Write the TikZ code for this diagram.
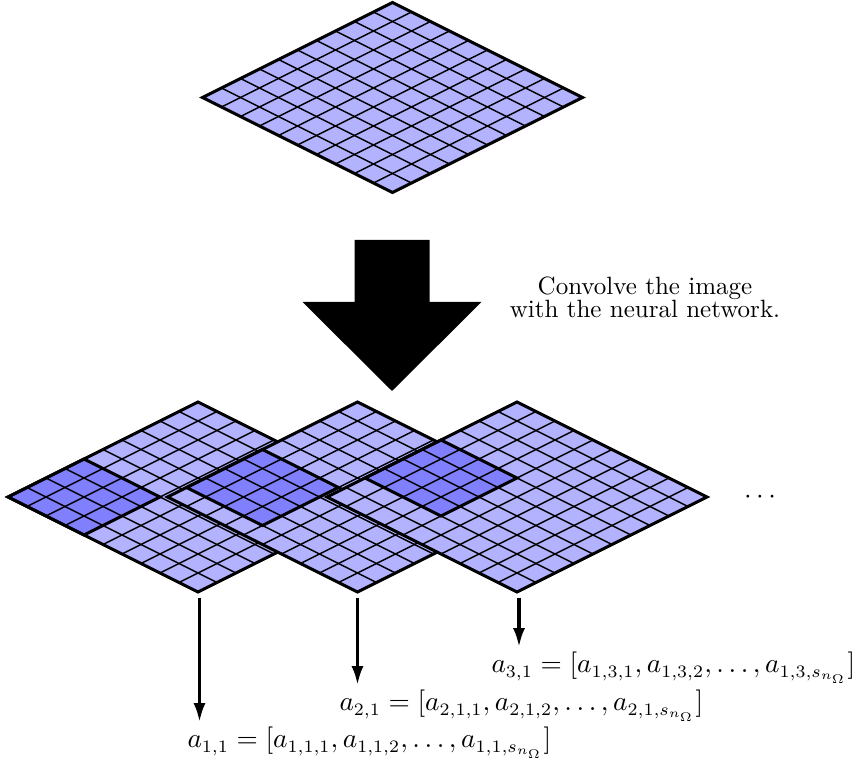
\documentclass[tikz,border=0pt]{standalone}
\usetikzlibrary{arrows.meta}
\tikzset{
  cellfill/.style={fill=blue!30},
  winfill/.style={fill=blue!50},
  gridline/.style={line width=0.6pt},
  border/.style={line width=1.2pt, line join=miter},
  outarrow/.style={line width=1.3pt, -{Latex[length=7.5pt,width=4.8pt]}},
  bigarrow/.style={fill=black},
  caption/.style={inner sep=0pt, anchor=base},
  mathlabel/.style={inner sep=0pt, font=\fontsize{10.7}{13}\selectfont},
}
\newcommand{\isogrid}[3]{%
  \begin{scope}[shift={(#1,#2)}]
    \fill[cellfill] (0,0) -- (190,-95) -- (380,0) -- (190,95) -- cycle;
    \ifnum#3>-1
      \fill[winfill] ({19*#3},{-9.5*#3}) -- ++(76,-38) -- ++(76,38) -- ++(-76,38) -- cycle;
    \fi
    \foreach \i in {1,...,9} {
      \draw[gridline] ({19*\i},{-9.5*\i}) -- ++(190,95);
      \draw[gridline] ({19*\i},{9.5*\i}) -- ++(190,-95);
    }
    \ifnum#3>-1
      \draw[border] ({19*#3},{-9.5*#3}) -- ++(76,-38) -- ++(76,38) -- ++(-76,38) -- cycle;
    \fi
    \draw[border] (0,0) -- (190,-95) -- (380,0) -- (190,95) -- cycle;
  \end{scope}}
\begin{document}
\begin{tikzpicture}[x=0.4pt, y=-0.4pt]
  \useasboundingbox (0,0) rectangle (862,764);
  % input image
  \isogrid{202.5}{97.5}{-1}
  % big arrow
  \fill[bigarrow] (354.5,240) -- (429.5,240) -- (429.5,302) -- (481.5,302)
    -- (392,391) -- (302.5,302) -- (354.5,302) -- cycle;
  \node[caption, text depth=0pt] (cap1) at (645,295) {Convolve the image};
  \node[caption] (cap2) at (645,317.5) {with the neural network.};
  % convolved copies
  \isogrid{8}{497}{0}
  \isogrid{167.5}{497}{1}
  \isogrid{327}{497}{2}
  \node[mathlabel] (dots) at (760,497) {$\cdots$};
  % labels
  \node[mathlabel, anchor=base west] (l1) at (187,748)
    {$a_{1,1} = [a_{1,1,1}, a_{1,1,2}, \ldots, a_{1,1,s_{n_\Omega}}]$};
  \node[mathlabel, anchor=base west] (l2) at (339,711)
    {$a_{2,1} = [a_{2,1,1}, a_{2,1,2}, \ldots, a_{2,1,s_{n_\Omega}}]$};
  \node[mathlabel, anchor=base west] (l3) at (491,673)
    {$a_{3,1} = [a_{1,3,1}, a_{1,3,2}, \ldots, a_{1,3,s_{n_\Omega}}]$};
  \coordinate (s1) at (199.5,598);
  \coordinate (s2) at (357.5,598);
  \coordinate (s3) at (519,598);
  \draw[outarrow] (s1) -- ([yshift=2pt]s1 |- l1.north);
  \draw[outarrow] (s2) -- ([yshift=2pt]s2 |- l2.north);
  \draw[outarrow] (s3) -- ([yshift=2pt]s3 |- l3.north);
\end{tikzpicture}
\end{document}
